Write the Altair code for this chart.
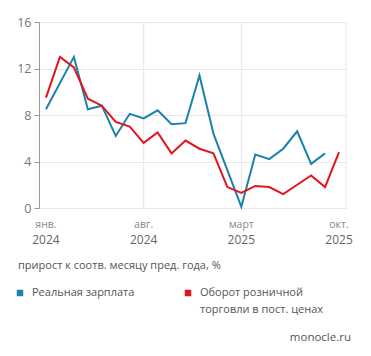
import altair as alt
import pandas as pd

# month index: 0 = Jan 2024 ... 21 = Oct 2025
months = list(range(22))
wage = [8.5, None, 13.0, 8.5, 8.8, 6.2, 8.1, 7.7, 8.4, 7.2, 7.3, 11.4,
        6.4, None, 0.1, 4.6, 4.2, 5.1, 6.6, 3.8, 4.7, None]
retail = [9.5, 13.0, 12.1, 9.4, 8.8, 7.4, 7.0, 5.6, 6.5, 4.7, 5.8, 5.1,
          4.7, 1.8, 1.3, 1.9, 1.8, 1.2, 2.0, 2.8, 1.8, 4.8]

series_names = ["Реальная зарплата", "Оборот розничной торговли в пост. ценах"]
series_colors = ["#1b82aa", "#e3141d"]

tick_idx = [0, 7, 14, 21]
tick_month = ["янв.", "авг.", "март", "окт."]
tick_year = ["2024", "2024", "2025", "2025"]
grid_x = [7, 14, 21.5]
y_ticks = [0, 4, 8, 12, 16]

subtitle = "прирост к соотв. месяцу пред. года, %"
legend_lines = [["Реальная зарплата"], ["Оборот розничной", "торговли в пост. ценах"]]
source = "monocle.ru"

FONT = "Open Sans"
W, H = 307, 186

rows = []
for m, w, r in zip(months, wage, retail):
    if w is not None:
        rows.append({"m": m, "v": w, "s": series_names[0]})
    if r is not None:
        rows.append({"m": m, "v": r, "s": series_names[1]})
df = pd.DataFrame(rows)

xscale = alt.Scale(domain=[-0.5, 21.5], nice=False, zero=False)
yscale = alt.Scale(domain=[0, 16], nice=False)

grid = alt.Chart(pd.DataFrame({"g": grid_x})).mark_rule(color="#e6e6e6", strokeWidth=1).encode(
    x=alt.X("g:Q", scale=xscale, axis=None),
)

lines = alt.Chart(df).mark_line(strokeWidth=2).encode(
    x=alt.X("m:Q", scale=xscale,
            axis=alt.Axis(labels=False, ticks=False, grid=False, domain=True,
                          domainColor="#9a9a9a", title=None)),
    y=alt.Y("v:Q", scale=yscale,
            axis=alt.Axis(values=y_ticks, grid=True, gridColor="#e6e6e6",
                          domainColor="#9a9a9a", tickColor="#9a9a9a", tickSize=5,
                          labelPadding=3, labelColor="#777777", labelFontSize=12.5,
                          labelFont=FONT, title=None)),
    color=alt.Color("s:N", scale=alt.Scale(domain=series_names, range=series_colors), legend=None),
    order="m:Q",
)

tdf = pd.DataFrame({"m": tick_idx, "mon": tick_month, "yr": tick_year})
mon_text = alt.Chart(tdf).mark_text(font=FONT, fontSize=10.5, color="#888888", baseline="middle").encode(
    x=alt.X("m:Q", scale=xscale), y=alt.value(H + 17), text="mon:N")
yr_text = alt.Chart(tdf).mark_text(font=FONT, fontSize=12, color="#666666", baseline="middle").encode(
    x=alt.X("m:Q", scale=xscale), y=alt.value(H + 32), text="yr:N")

sub = alt.Chart(pd.DataFrame({"t": [subtitle]})).mark_text(
    font=FONT, fontSize=11, color="#555555", align="left", baseline="middle").encode(
    x=alt.value(-21), y=alt.value(H + 58), text="t:N")

leg = pd.DataFrame({
    "name": series_names,
    "lines": legend_lines,
    "col": series_colors,
    "sx": [-19, 149],
    "tx": [-7, 161],
})
leg_sq = alt.Chart(leg).mark_square(size=42, opacity=1).encode(
    x=alt.X("sx:Q", scale=None), y=alt.value(H + 85),
    color=alt.Color("col:N", scale=None))
leg_tx = alt.Chart(leg).mark_text(
    font=FONT, fontSize=11, color="#555555", align="left", baseline="middle", lineHeight=17).encode(
    x=alt.X("tx:Q", scale=None), y=alt.value(H + 85), text="lines")
src = alt.Chart(pd.DataFrame({"t": [source]})).mark_text(
    font=FONT, fontSize=11.5, color="#555555", align="right", baseline="middle").encode(
    x=alt.value(W + 5), y=alt.value(H + 130), text="t:N")

chart = alt.layer(grid, lines, mon_text, yr_text, sub, leg_sq, leg_tx, src).properties(
    width=W, height=H,
    autosize=alt.AutoSizeParams(type="none"),
    padding={"left": 39, "top": 22, "right": 25, "bottom": 148},
    background="white",
).configure_view(stroke=None)

chart.save("out.html", embed_options={"renderer": "svg", "actions": False})
